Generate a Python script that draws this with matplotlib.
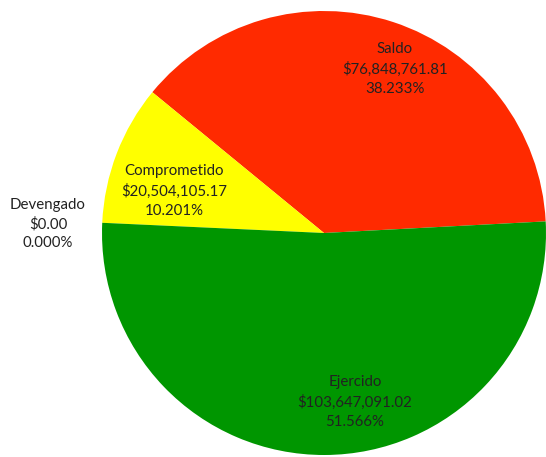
import matplotlib.pyplot as plt

# data
categorias = ['Saldo', 'Comprometido', 'Devengado', 'Ejercido']
montos = [76848761.81, 20504105.17, 0.00, 103647091.02]
porcentajes = [38.233, 10.201, 0.000, 51.566]
colores = ['#FF2A00', '#FFFF00', '#FFFFFF', '#009600']

# label centres (pixel coords, y from bottom)
pos_etiquetas = [(395, 388), (174, 266), (48, 233), (355, 55)]

fig = plt.figure(figsize=(5.46, 4.57), dpi=100)
ax = fig.add_axes([0, 0, 1, 1])

ax.pie(montos, colors=colores, startangle=3.0, counterclock=True,
       center=(324, 224), radius=222, frame=True,
       wedgeprops={'linewidth': 0})

for cat, monto, pct, (x, y) in zip(categorias, montos, porcentajes, pos_etiquetas):
    txt = f'{cat}\n${monto:,.2f}\n{pct:.3f}%'
    ax.text(x, y, txt, ha='center', va='center', fontsize=10.8,
            family='Lato', color='#222222', linespacing=1.45)

ax.set_xlim(0, 546)
ax.set_ylim(0, 457)
ax.set_aspect('equal')
ax.axis('off')

plt.savefig('out.png', dpi=100)
